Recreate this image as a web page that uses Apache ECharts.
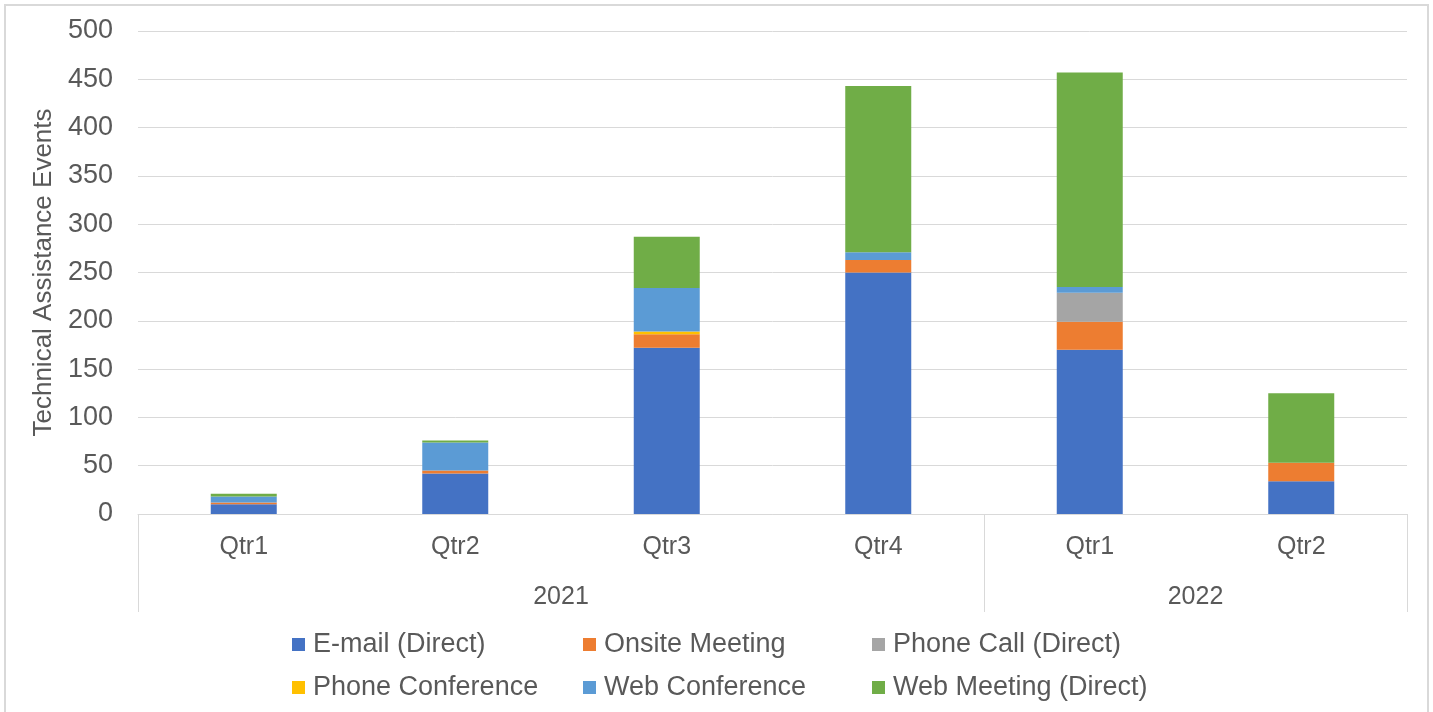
<!DOCTYPE html>
<html>
<head>
    <meta charset="utf-8">
    <script src="https://cdn.jsdelivr.net/npm/echarts@6/dist/echarts.min.js"></script>
    <style>
        body { margin: 0; overflow: hidden; background: #fff; }
        #frame { position: absolute; left: 4px; top: 4px; width: 1421px; height: 730px; border: 2px solid #d9d9d9; }
        #main { position: absolute; left: 0; top: 0; width: 1433px; height: 712px; }
    </style>
</head>
<body>
    <div id="frame"></div>
    <div id="main"></div>

    <script type="text/javascript">
        var quarters = ['Qtr1', 'Qtr2', 'Qtr3', 'Qtr4', 'Qtr1', 'Qtr2'];
        var years = ['2021', '2022'];

        var seriesNames = ['E-mail (Direct)', 'Onsite Meeting', 'Phone Call (Direct)',
                           'Phone Conference', 'Web Conference', 'Web Meeting (Direct)'];
        var emailDirect = [10, 42, 172, 250, 170, 34];
        var onsiteMeeting = [2, 3, 14, 13, 29, 19];
        var phoneCall = [0, 0, 0, 0, 30, 0];
        var phoneConference = [0, 0, 3, 0, 0, 0];
        var webConference = [6, 29, 45, 8, 6, 0];
        var webMeeting = [3, 2, 53, 172, 222, 72];

        var values = [emailDirect, onsiteMeeting, phoneCall, phoneConference, webConference, webMeeting];
        var colors = ['#4472C4', '#ED7D31', '#A5A5A5', '#FFC000', '#5B9BD5', '#70AD47'];

        var myChart = echarts.init(document.getElementById('main'));

        var font = 'Liberation Sans, Arial, sans-serif';
        var textColor = '#595959';
        var lineColor = '#d9d9d9';

        // one legend per item so the 3x2 grid lines up like the original
        var legendLeft = [287, 578, 867];
        var legendTop = [626, 669];
        var legends = seriesNames.map(function (name, i) {
            return {
                data: [name],
                left: legendLeft[i % 3],
                top: legendTop[Math.floor(i / 3)],
                itemWidth: 13,
                itemHeight: 13,
                icon: 'rect',
                selectedMode: false,
                textStyle: { fontFamily: font, fontSize: 27, color: textColor, padding: [0, 0, 0, 3] }
            };
        });

        var series = seriesNames.map(function (name, i) {
            return {
                name: name,
                type: 'bar',
                stack: 'total',
                barWidth: 66,
                xAxisIndex: 0,
                itemStyle: { color: colors[i] },
                data: values[i]
            };
        });

        option = {
            animation: false,
            backgroundColor: 'transparent',
            grid: { left: 138, right: 26, top: 31, bottom: 198 },
            legend: legends,
            xAxis: [
                {
                    type: 'category',
                    data: quarters,
                    axisLine: { lineStyle: { color: lineColor, width: 1 } },
                    axisTick: { show: false },
                    axisLabel: { fontFamily: font, fontSize: 25, color: textColor, margin: 21 }
                },
                {
                    type: 'value',
                    min: 0,
                    max: 6,
                    position: 'bottom',
                    axisLine: { show: false },
                    splitLine: { show: false },
                    axisTick: {
                        show: true,
                        customValues: [0, 4, 6],
                        length: 98,
                        lineStyle: { color: lineColor, width: 1 }
                    },
                    axisLabel: {
                        customValues: [2, 5],
                        margin: 71,
                        fontFamily: font, fontSize: 25, color: textColor,
                        formatter: function (v) { return v === 2 ? years[0] : years[1]; }
                    }
                }
            ],
            yAxis: {
                type: 'value',
                min: 0,
                max: 500,
                interval: 50,
                name: 'Technical Assistance Events',
                nameLocation: 'middle',
                nameGap: 77,
                nameTextStyle: { fontFamily: font, fontSize: 26, color: textColor },
                axisLine: { show: false },
                axisTick: { show: false },
                axisLabel: { fontFamily: font, fontSize: 27, color: textColor, margin: 25 },
                splitLine: { lineStyle: { color: lineColor, width: 1 } }
            },
            series: series
        };

        myChart.setOption(option);
    </script>
</body>
</html>
